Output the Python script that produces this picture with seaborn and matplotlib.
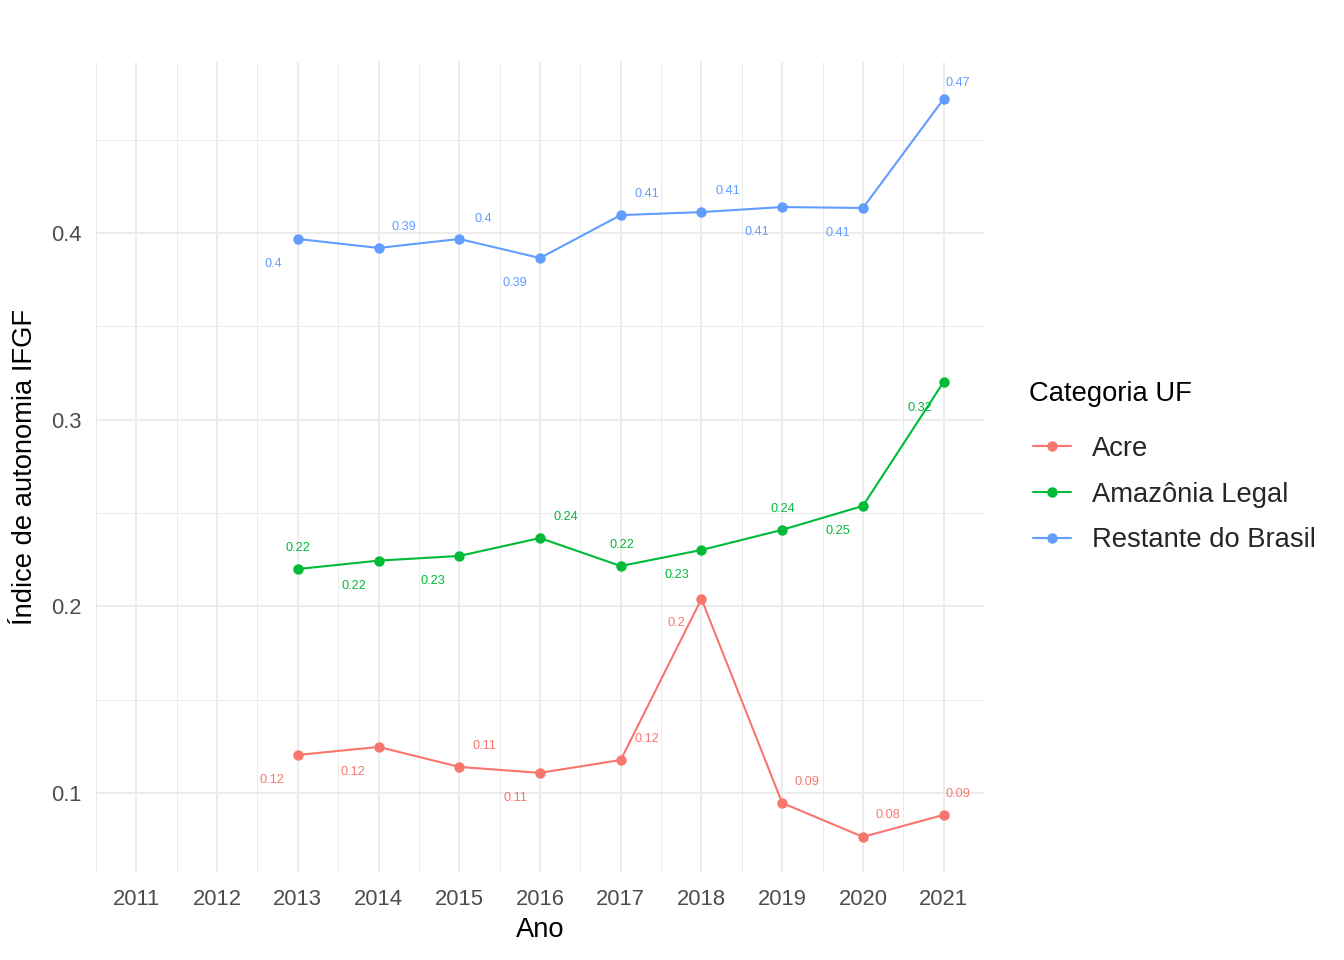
import numpy as np
import pandas as pd
import matplotlib
matplotlib.use("Agg")
import matplotlib.pyplot as plt
import seaborn as sns

# ---------------- data ----------------
anos = [2013, 2014, 2015, 2016, 2017, 2018, 2019, 2020, 2021]
acre = [0.1204, 0.1247, 0.1140, 0.1108, 0.1177, 0.2040, 0.0947, 0.0765, 0.0883]
amazonia_legal = [0.2200, 0.2245, 0.2270, 0.2366, 0.2216, 0.2302, 0.2410, 0.2538, 0.3202]
restante_brasil = [0.3968, 0.3920, 0.3968, 0.3866, 0.4096, 0.4112, 0.4139, 0.4134, 0.4718]
categorias = ["Acre", "Amazônia Legal", "Restante do Brasil"]
x_ticks = list(range(2011, 2022))
y_ticks = [0.1, 0.2, 0.3, 0.4]

# label offsets (pixels, right / down) mimicking jittered text placement
off_acre = [(-26, 25), (-26, 25), (25, -21), (-25, 25), (26, -21), (-25, 24), (25, -21), (25, -22), (14, -21)]
off_amaz = [(0, -21), (-25, 25), (-26, 25), (26, -21), (1, -21), (-25, 25), (1, -21), (-25, 25), (-24, 26)]
off_rest = [(-25, 25), (25, -21), (24, -20), (-25, 25), (26, -21), (26, -21), (-25, 25), (-25, 25), (14, -16)]

cores = ["#F8766D", "#00BA38", "#619CFF"]

df = pd.DataFrame({
    "Ano": anos * 3,
    "valor": acre + amazonia_legal + restante_brasil,
    "Categoria UF": [c for c in categorias for _ in anos],
})

sns.set_style("white")
plt.rcParams["font.family"] = ["Liberation Sans", "DejaVu Sans"]

fig = plt.figure(figsize=(13.44, 9.6), dpi=100)
ax = fig.add_axes([96 / 1344, 88 / 960, (984 - 96) / 1344, (872 - 62) / 960])

sns.lineplot(data=df, x="Ano", y="valor", hue="Categoria UF", palette=cores,
             marker="o", markersize=7.5, markeredgewidth=0, linewidth=1.5,
             ax=ax, zorder=3)

for serie, offs, cor in [(acre, off_acre, cores[0]), (amazonia_legal, off_amaz, cores[1]),
                         (restante_brasil, off_rest, cores[2])]:
    for a, v, (dx, dy) in zip(anos, serie, offs):
        ax.annotate(f"{round(v, 2):g}", (a, v), xytext=(dx, -dy), textcoords="offset pixels",
                    ha="center", va="center", fontsize=9.2, color=cor, zorder=4)

ax.set_xlim(2010.5, 2021.5)
ax.set_ylim(0.0577, 0.4916)
ax.set_xticks(x_ticks)
ax.set_xticklabels([str(t) for t in x_ticks])
ax.set_xticks(np.arange(2010.5, 2022, 1.0), minor=True)
ax.set_yticks(y_ticks)
ax.set_yticklabels([f"{t:g}" for t in y_ticks])
ax.set_yticks([0.15, 0.25, 0.35, 0.45], minor=True)
ax.grid(which="major", color="#EBEBEB", linewidth=1.3, zorder=0)
ax.grid(which="minor", color="#EBEBEB", linewidth=0.7, zorder=0)
ax.set_axisbelow(True)
for s in ax.spines.values():
    s.set_visible(False)
ax.tick_params(which="both", length=0, labelsize=15.8, labelcolor="#4D4D4D")
ax.tick_params(axis="x", pad=12)
ax.tick_params(axis="y", pad=10)
ax.set_xlabel("Ano", fontsize=19.7, color="black", labelpad=5)
ax.set_ylabel("Índice de autonomia IFGF", fontsize=19.7, color="black", labelpad=10)

handles, labels = ax.get_legend_handles_labels()
ax.get_legend().remove()
fig.text(1029 / 1344, 1 - 394 / 960, "Categoria UF", fontsize=19.7, ha="left", va="center",
         color="black")
leg = fig.legend(handles, labels, loc="upper left",
                 bbox_to_anchor=(1033 / 1344, 1 - 436 / 960), frameon=False,
                 fontsize=19.7, handlelength=1.4, borderaxespad=0, borderpad=0,
                 handletextpad=0.75, labelspacing=0.72)

fig.savefig("out.png", dpi=100, facecolor="white")
